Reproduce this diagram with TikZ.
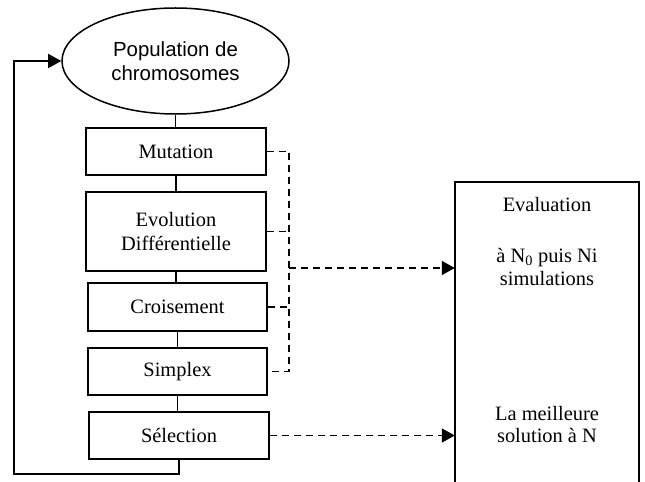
\documentclass[tikz,border=0pt]{standalone}
\usepackage{fontspec}
\setmainfont{Liberation Serif}
\newfontfamily\arialf{Liberation Sans}
\usetikzlibrary{shapes.geometric,arrows.meta}
\tikzset{
  stepbox/.style={draw,line width=1.5bp,rectangle,minimum width=180bp,inner sep=0pt,align=center,font=\fontsize{20.5}{24.5}\selectfont},
  link/.style={line width=1.5bp},
  dashlink/.style={line width=1.5bp,dash pattern=on 7bp off 5bp},
  tip/.style={-{Triangle[length=13bp,width=14bp]}},
  txt/.style={align=center,inner sep=0pt,font=\fontsize{20.5}{22.5}\selectfont}
}
\begin{document}
\begin{tikzpicture}[x=1bp,y=-1bp]
\useasboundingbox (0,0) rectangle (645,482);
\node[draw,ellipse,line width=1.5bp,minimum width=227bp,minimum height=106bp,inner sep=0pt,align=center,font=\arialf\fontsize{20.5}{24.5}\selectfont] (pop) at (175.5,61) {Population de\\chromosomes};
\node[stepbox,minimum height=47bp] (mut) at (176,151.5) {Mutation};
\node[stepbox,minimum height=79bp] (evo) at (176,231.5) {Evolution\\Différentielle};
\node[stepbox,minimum width=179bp,minimum height=48bp] (cro) at (177.5,307) {Croisement};
\node[stepbox,minimum width=179bp,minimum height=47bp] (sim) at (177.5,371.5) {Simplex};
\node[stepbox,minimum height=47bp] (sel) at (179,435.5) {Sélection};
% evaluation box (open at the bottom)
\node[minimum width=184bp,minimum height=300bp,inner sep=0pt] (eval) at (547,332) {};
\draw[link] (eval.south west) -- (eval.north west) -- (eval.north east) -- (eval.south east);
\node[txt] (t1) at (547,205) {Evaluation};
\node[txt] (t2) at (547,267) {à N\textsubscript{0} puis Ni\\simulations};
\node[txt] (t3) at (547,424.5) {La meilleure\\solution à N};
% solid chain
\draw[link] (pop.south) -- (pop.south |- mut.north);
\draw[link] (mut.south) -- (mut.south |- evo.north);
\draw[link] (evo.south) -- (evo.south |- cro.north);
\draw[link] (cro.south) -- (cro.south |- sim.north);
\draw[link] (sim.south) -- (sim.south |- sel.north);
% feedback loop
\coordinate (fb) at (14,474);
\draw[link,tip] (sel.south) |- (fb) |- (pop.west);
% dashed bus
\coordinate (bus) at (289,151.5);
\draw[dashlink] (mut.east) -- (bus) |- (sim.east);
\draw[dashlink] (evo.east) -- (evo.east -| bus);
\draw[dashlink] (cro.east) -- (cro.east -| bus);
\coordinate (j) at (289,268);
\draw[dashlink,tip] (j) -- (j -| eval.west);
\draw[dashlink,tip] (sel.east) -- (sel.east -| eval.west);
\end{tikzpicture}
\end{document}
